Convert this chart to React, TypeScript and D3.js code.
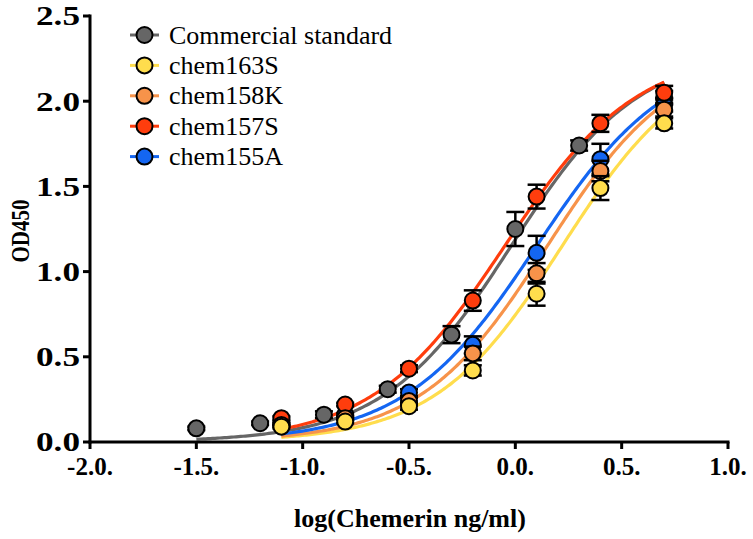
import React from "react";
import * as d3 from "d3";

const W = 753;
const H = 539;

const xStd = [-1.5, -1.2, -0.9, -0.6, -0.3, 0.0, 0.3, 0.7];
const xVar = [-1.1, -0.8, -0.5, -0.2, 0.1, 0.4, 0.7];

const seriesNames = ["Commercial standard", "chem163S", "chem158K", "chem157S", "chem155A"];
const seriesColors = ["#666666", "#FFDD4D", "#F7934A", "#FF3D0D", "#1466F2"];

const stdY = [0.08, 0.11, 0.16, 0.31, 0.63, 1.25, 1.74, 2.02];
const stdErr = [0.01, 0.01, 0.02, 0.02, 0.05, 0.1, 0.03, 0.04];
const c163Y = [0.09, 0.12, 0.21, 0.42, 0.87, 1.49, 1.87];
const c163Err = [0.01, 0.01, 0.02, 0.03, 0.07, 0.07, 0.03];
const c158Y = [0.1, 0.14, 0.24, 0.52, 0.99, 1.59, 1.95];
const c158Err = [0.01, 0.01, 0.02, 0.04, 0.06, 0.06, 0.04];
const c157Y = [0.14, 0.22, 0.43, 0.83, 1.44, 1.87, 2.05];
const c157Err = [0.01, 0.01, 0.02, 0.06, 0.07, 0.05, 0.04];
const c155Y = [0.11, 0.16, 0.29, 0.57, 1.11, 1.66, 1.98];
const c155Err = [0.01, 0.01, 0.02, 0.05, 0.1, 0.09, 0.04];

// 4-parameter logistic fit parameters: [bottom, top, logEC50, hill]
const fitStd = [0, 2.3, -0.02, 1.45];
const fit163 = [0, 2.3, 0.22, 1.45];
const fit158 = [0, 2.3, 0.15, 1.45];
const fit157 = [0, 2.3, -0.05, 1.4];
const fit155 = [0, 2.3, 0.1, 1.4];

const xTicks = [-2.0, -1.5, -1.0, -0.5, 0.0, 0.5, 1.0];
const xTickLabels = ["-2.0.", "-1.5.", "-1.0.", "-0.5.", "0.0.", "0.5.", "1.0."];
const yTicks = [0, 0.5, 1.0, 1.5, 2.0, 2.5];
const yTickLabels = ["0.0", "0.5", "1.0", "1.5", "2.0", "2.5"];

const series = [
  { name: seriesNames[0], color: seriesColors[0], xs: xStd, ys: stdY, err: stdErr, fit: fitStd },
  { name: seriesNames[1], color: seriesColors[1], xs: xVar, ys: c163Y, err: c163Err, fit: fit163 },
  { name: seriesNames[2], color: seriesColors[2], xs: xVar, ys: c158Y, err: c158Err, fit: fit158 },
  { name: seriesNames[3], color: seriesColors[3], xs: xVar, ys: c157Y, err: c157Err, fit: fit157 },
  { name: seriesNames[4], color: seriesColors[4], xs: xVar, ys: c155Y, err: c155Err, fit: fit155 },
];

const curveOrder = [0, 1, 2, 4, 3];
const pointOrder = [0, 4, 3, 2, 1];

const x = d3.scaleLinear().domain([-2, 1]).range([90, 728]);
const y = d3.scaleLinear().domain([0, 2.5]).range([442, 16]);

function logistic(p: number[], v: number) {
  return p[0] + (p[1] - p[0]) / (1 + Math.pow(10, (p[2] - v) * p[3]));
}

const font = "Times New Roman, Liberation Serif, Times, DejaVu Serif, serif";
const tf = { fontFamily: font };

export default function App() {
  const line = d3
    .line<number>()
    .x((v) => x(v))
    .curve(d3.curveLinear);

  return (
    <svg width={W} height={H} style={{ position: "absolute", left: 0, top: 0, background: "#fff" }}>
      <rect width={W} height={H} fill="#fff" />
      {curveOrder.map((i) => {
        const s = series[i];
        const x0 = s.xs[0];
        const x1 = s.xs[s.xs.length - 1];
        const pts = d3.range(0, 201).map((k) => x0 + ((x1 - x0) * k) / 200);
        const gen = line.y((v) => y(logistic(s.fit, v)));
        return <path key={"c" + i} d={gen(pts) || ""} fill="none" stroke={s.color} strokeWidth={3.2} />;
      })}
      {pointOrder.map((i) => {
        const s = series[i];
        return (
          <g key={"p" + i}>
            {s.xs.map((xv, j) => {
              const cx = x(xv);
              const yt = y(s.ys[j] + s.err[j]);
              const yb = y(s.ys[j] - s.err[j]);
              return (
                <g key={j} stroke="#000" strokeWidth={2.5}>
                  <line x1={cx} x2={cx} y1={yt} y2={yb} />
                  <line x1={cx - 9} x2={cx + 9} y1={yt} y2={yt} />
                  <line x1={cx - 9} x2={cx + 9} y1={yb} y2={yb} />
                </g>
              );
            })}
            {s.xs.map((xv, j) => (
              <circle key={"o" + j} cx={x(xv)} cy={y(s.ys[j])} r={8} fill={s.color} stroke="#000" strokeWidth={2} />
            ))}
          </g>
        );
      })}
      <g stroke="#000" strokeWidth={3} fill="none">
        <line x1={x(-2)} x2={x(-2)} y1={y(2.5) - 1.5} y2={y(0) + 1.5} />
        <line x1={x(-2) - 1.5} x2={x(1) + 1.5} y1={y(0)} y2={y(0)} />
        {yTicks.map((t) => (
          <line key={"yt" + t} x1={x(-2) - 7} x2={x(-2)} y1={y(t)} y2={y(t)} />
        ))}
        {xTicks.map((t) => (
          <line key={"xt" + t} x1={x(t)} x2={x(t)} y1={y(0)} y2={y(0) + 7} />
        ))}
      </g>
      {yTicks.map((t, i) => (
        <text
          key={"yl" + t}
          style={tf}
          x={x(-2) - 10}
          y={y(t)}
          dy="0.35em"
          textAnchor="end"
          fontSize={27}
          fontWeight="bold"
          textLength={44}
          lengthAdjust="spacingAndGlyphs"
        >
          {yTickLabels[i]}
        </text>
      ))}
      {xTicks.map((t, i) => (
        <text key={"xl" + t} style={tf} x={x(t)} y={y(0) + 33} textAnchor="middle" fontSize={25} fontWeight="bold">
          {xTickLabels[i]}
        </text>
      ))}
      <text style={tf} x={410} y={527} textAnchor="middle" fontSize={26} fontWeight="bold">
        log(Chemerin ng/ml)
      </text>
      <text
        style={tf}
        transform={`translate(29,231) rotate(-90)`}
        textAnchor="middle"
        fontSize={26}
        fontWeight="bold"
        textLength={63}
        lengthAdjust="spacingAndGlyphs"
      >
        OD450
      </text>
      {series.map((s, i) => {
        const ly = 35 + i * 30.4;
        return (
          <g key={"lg" + i}>
            <line x1={130} x2={159} y1={ly} y2={ly} stroke={s.color} strokeWidth={3} />
            <circle cx={144.5} cy={ly} r={8} fill={s.color} stroke="#000" strokeWidth={2} />
            <text style={tf} x={169} y={ly} dy="0.33em" fontSize={26}>
              {s.name}
            </text>
          </g>
        );
      })}
    </svg>
  );
}
